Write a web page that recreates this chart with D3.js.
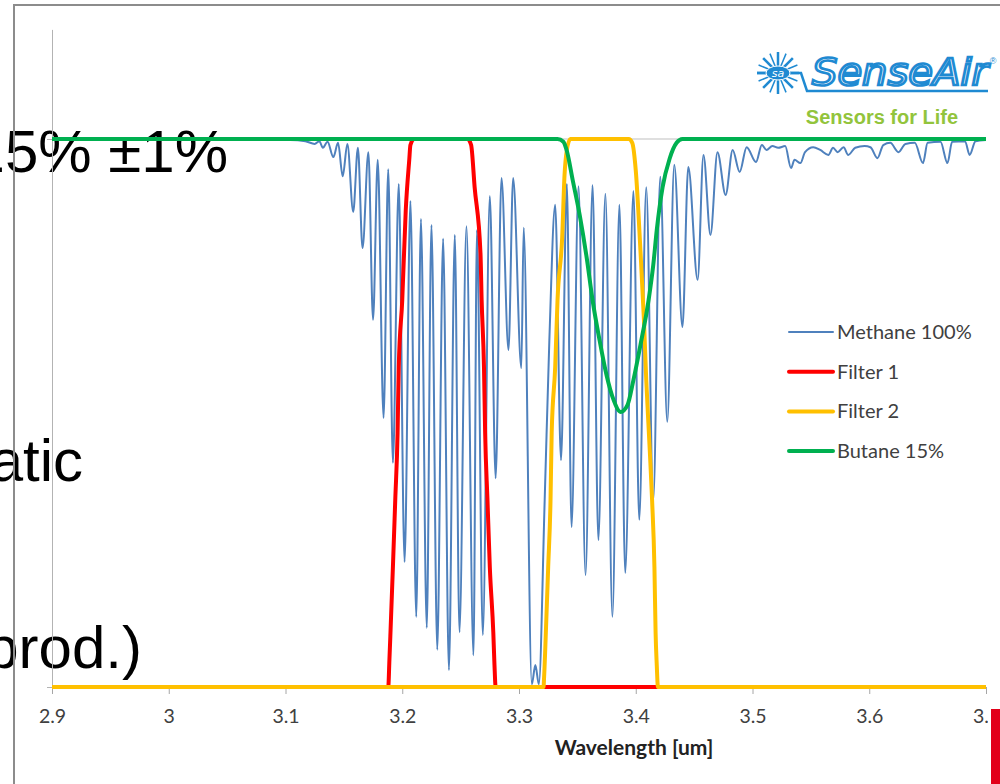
<!DOCTYPE html>
<html>
<head>
<meta charset="utf-8">
<script src="https://cdn.jsdelivr.net/npm/d3@7"></script>
<style>
  body { margin: 0; background: #fff; }
  svg { display: block; }
</style>
</head>
<body>
<div id="chart"></div>
<script>
// wavelength [um], transmission
const methane = [
  [2.900,0.999],[3.104,0.998],[3.117,0.996],[3.125,0.991],[3.129,0.996],[3.132,0.984],[3.136,0.995],
  [3.141,0.967],[3.145,0.993],[3.149,0.932],[3.153,0.991],[3.158,0.867],[3.162,0.984],[3.166,0.801],
  [3.171,0.976],[3.175,0.670],[3.179,0.962],[3.184,0.491],[3.188,0.945],[3.192,0.409],[3.197,0.918],
  [3.202,0.228],[3.207,0.887],[3.212,0.128],[3.216,0.854],[3.221,0.108],[3.225,0.843],[3.230,0.068],
  [3.235,0.818],[3.240,0.031],[3.245,0.825],[3.249,0.100],[3.255,0.841],[3.261,0.058],[3.264,0.834],
  [3.269,0.095],[3.275,0.896],[3.280,0.381],[3.285,0.929],[3.291,0.615],[3.295,0.929],[3.302,0.582],
  [3.304,0.838],[3.311,0.005],[3.314,0.040],[3.317,0.005],[3.322,0.341],[3.326,0.633],[3.331,0.880],
  [3.336,0.414],[3.341,0.918],[3.345,0.292],[3.351,0.914],[3.357,0.204],[3.363,0.916],[3.368,0.268],
  [3.374,0.900],[3.380,0.128],[3.386,0.880],[3.391,0.208],[3.398,0.905],[3.403,0.305],[3.409,0.912],
  [3.415,0.341],[3.421,0.931],[3.427,0.484],[3.433,0.953],[3.440,0.657],[3.445,0.949],[3.453,0.743],
  [3.458,0.971],[3.464,0.825],[3.470,0.976],[3.477,0.898],[3.483,0.980],[3.489,0.940],[3.495,0.985],
  [3.503,0.958],[3.508,0.989],[3.512,0.980],[3.517,0.987],[3.522,0.984],[3.528,0.987],[3.533,0.947],
  [3.536,0.962],[3.541,0.956],[3.545,0.976],[3.552,0.985],[3.558,0.980],[3.565,0.971],[3.569,0.984],
  [3.573,0.976],[3.578,0.985],[3.582,0.971],[3.588,0.984],[3.596,0.987],[3.601,0.985],[3.607,0.965],
  [3.612,0.989],[3.618,0.993],[3.625,0.976],[3.631,0.991],[3.639,0.993],[3.646,0.956],[3.650,0.993],
  [3.661,0.995],[3.667,0.956],[3.671,0.995],[3.682,0.996],[3.686,0.971],[3.691,0.996],[3.700,0.998]
];
const filter1 = [
  [2.900,0],[3.188,0],[3.189,0.049],[3.190,0.104],[3.192,0.219],[3.194,0.341],[3.196,0.464],
  [3.197,0.584],[3.200,0.706],[3.203,0.870],[3.206,0.962],[3.207,0.989],[3.210,1.0],
  [3.256,1.0],[3.259,0.989],[3.262,0.912],[3.267,0.792],[3.268,0.706],[3.270,0.584],[3.271,0.464],
  [3.273,0.341],[3.275,0.219],[3.278,0.099],[3.279,0.040],[3.280,0],[3.700,0]
];
const filter2 = [
  [2.900,0],[3.321,0],[3.3215,0.018],[3.323,0.099],[3.325,0.219],[3.327,0.341],[3.328,0.464],
  [3.331,0.584],[3.333,0.706],[3.337,0.821],[3.339,0.934],[3.341,0.980],[3.344,1.0],
  [3.394,1.0],[3.397,0.993],[3.400,0.943],[3.404,0.797],[3.407,0.670],[3.409,0.560],[3.412,0.432],
  [3.414,0.341],[3.416,0.219],[3.417,0.099],[3.418,0.040],[3.419,0],[3.700,0]
];
const butane = [
  [2.900,1.0],[3.333,1.0],[3.338,0.995],[3.341,0.978],[3.346,0.925],[3.352,0.861],[3.358,0.783],
  [3.363,0.706],[3.369,0.633],[3.375,0.569],[3.381,0.524],[3.387,0.502],[3.393,0.515],[3.398,0.560],
  [3.404,0.624],[3.411,0.706],[3.415,0.770],[3.418,0.834],[3.423,0.912],[3.429,0.964],[3.435,0.993],
  [3.440,1.0],[3.700,1.0]
];

const xTicks = [2.9, 3.0, 3.1, 3.2, 3.3, 3.4, 3.5, 3.6, 3.7];
const xTickLabels = ["2.9", "3", "3.1", "3.2", "3.3", "3.4", "3.5", "3.6", "3.7"];
const seriesNames = ["Methane 100%", "Filter 1", "Filter 2", "Butane 15%"];
const seriesColors = ["#4f81bd", "#ff0000", "#ffc000", "#00b050"];
const slideText = ["15% ±1%", "atic", "prod.)"];

const width = 1000, height = 784;

const x = d3.scaleLinear([2.9, 3.7], [52, 986]);
const y = d3.scaleLinear([0, 1.2], [687, 29.4]);

const svg = d3.select("#chart").append("svg")
    .attr("width", width)
    .attr("height", height)
    .attr("viewBox", [0, 0, width, height]);

// slide text behind the chart
const slide = svg.append("g")
    .attr("font-family", "'Liberation Sans', Arial, sans-serif")
    .attr("font-size", 60)
    .attr("fill", "#000")
    .attr("text-anchor", "end");
slide.append("text").attr("x", 228).attr("y", 172).text(slideText[0]);
slide.append("text").attr("x", 83).attr("y", 481).text(slideText[1]);
slide.append("text").attr("x", 142).attr("y", 668).text(slideText[2]);

// chart frame
svg.append("path")
    .attr("d", "M14,784V5H1000")
    .attr("fill", "none")
    .attr("stroke", "#8c8c8c")
    .attr("stroke-width", 2);

// gridline at 1
svg.append("line")
    .attr("x1", x(2.9)).attr("x2", x(3.7))
    .attr("y1", y(1)).attr("y2", y(1))
    .attr("stroke", "#bfbfbf");

// y axis
svg.append("g")
    .attr("transform", `translate(${x(2.9)},0)`)
    .call(d3.axisLeft(y).tickValues([0, 1]).tickFormat("").tickSize(5).tickSizeOuter(0))
    .call(g => g.selectAll("path,line").attr("stroke", "#b3b3b3"));

// x axis
const xAxis = svg.append("g")
    .attr("transform", `translate(0,${y(0)})`)
    .call(d3.axisBottom(x).tickValues(xTicks).tickFormat((d, i) => xTickLabels[i]).tickSize(7).tickSizeOuter(0));
xAxis.selectAll("path,line").attr("stroke", "#a6a6a6");
xAxis.selectAll("text")
    .attr("y", 36).attr("dy", 0)
    .attr("font-family", "Lato, 'Open Sans', sans-serif")
    .attr("font-size", 19.5)
    .attr("fill", "#404040");

svg.append("text")
    .attr("x", 634).attr("y", 755)
    .attr("text-anchor", "middle")
    .attr("font-family", "Lato, 'Open Sans', sans-serif")
    .attr("font-weight", "bold")
    .attr("font-size", 21)
    .attr("fill", "#222")
    .text("Wavelength [um]");

// series
const line = d3.line()
    .x(d => x(d[0]))
    .y(d => y(d[1]))
    .curve(d3.curveMonotoneX);

const series = [methane, filter1, filter2, butane];
const widths = [2, 4, 4, 4];
series.forEach((s, i) => {
  svg.append("path")
      .datum(s)
      .attr("d", line)
      .attr("fill", "none")
      .attr("stroke", seriesColors[i])
      .attr("stroke-width", widths[i])
      .attr("stroke-linejoin", "round");
});

// legend
const legend = svg.append("g")
    .attr("font-family", "Lato, 'Open Sans', sans-serif")
    .attr("font-size", 20)
    .attr("fill", "#404040");
seriesNames.forEach((name, i) => {
  const ly = 332 + i * 39.7;
  legend.append("line")
      .attr("x1", 789).attr("x2", 833)
      .attr("y1", ly).attr("y2", ly)
      .attr("stroke", seriesColors[i])
      .attr("stroke-width", widths[i])
      .attr("stroke-linecap", "round");
  legend.append("text")
      .attr("x", 837).attr("y", ly)
      .attr("dy", "0.35em")
      .text(name);
});

// SenseAir logo
const logo = svg.append("g");
const blue = "#1f8ad2";
const cx = 778, cy = 73;
d3.range(16).forEach(k => {
  const a = k * Math.PI / 8;
  logo.append("line")
      .attr("x1", cx).attr("y1", cy)
      .attr("x2", cx + 21 * Math.cos(a)).attr("y2", cy + 21 * Math.sin(a))
      .attr("stroke", blue).attr("stroke-width", k % 2 ? 1.5 : 2.5);
});
logo.append("path")
    .attr("d", "M757,73H801L807,91H988")
    .attr("fill", "none").attr("stroke", blue).attr("stroke-width", 2.5);
logo.append("ellipse")
    .attr("cx", cx).attr("cy", cy).attr("rx", 12).attr("ry", 7)
    .attr("fill", blue).attr("stroke", "#fff").attr("stroke-width", 1);
logo.append("text")
    .attr("x", cx).attr("y", cy + 4)
    .attr("text-anchor", "middle")
    .attr("font-family", "'DejaVu Sans', sans-serif")
    .attr("font-style", "italic")
    .attr("font-size", 11)
    .attr("fill", "#fff")
    .text("sa");
logo.append("text")
    .attr("x", 812).attr("y", 85)
    .attr("textLength", 176).attr("lengthAdjust", "spacingAndGlyphs")
    .attr("font-family", "'DejaVu Sans', sans-serif")
    .attr("font-style", "italic")
    .attr("font-size", 38)
    .attr("fill", "#fff")
    .attr("stroke", blue)
    .attr("stroke-width", 2.6)
    .text("SenseAir");
logo.append("text")
    .attr("x", 993).attr("y", 64)
    .attr("text-anchor", "middle")
    .attr("font-family", "'Liberation Sans', Arial, sans-serif")
    .attr("font-size", 9)
    .attr("fill", blue)
    .text("®");
logo.append("text")
    .attr("x", 882).attr("y", 124)
    .attr("text-anchor", "middle")
    .attr("font-family", "'Liberation Sans', Arial, sans-serif")
    .attr("font-weight", "bold")
    .attr("font-size", 20)
    .attr("fill", "#92c43c")
    .text("Sensors for Life");

// slide edge and red marker bottom right
svg.append("rect").attr("x", 988).attr("y", 700).attr("width", 12).attr("height", 84).attr("fill", "#fff");
svg.append("rect").attr("x", 991).attr("y", 709).attr("width", 9).attr("height", 75).attr("fill", "#e2001a");
</script>
</body>
</html>
